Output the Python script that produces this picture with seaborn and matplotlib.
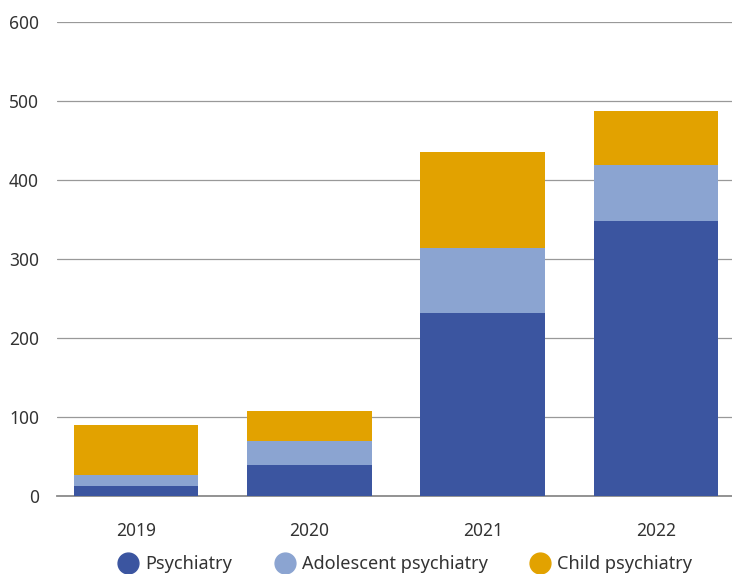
import matplotlib
matplotlib.use("Agg")
import matplotlib.pyplot as plt
from matplotlib.lines import Line2D
import seaborn as sns
import numpy as np
import pandas as pd

years = ["2019", "2020", "2021", "2022"]
psychiatry = [13, 39, 232, 348]
adolescent = [14, 31, 82, 71]
child = [63, 37, 121, 68]
series_names = ["Psychiatry", "Adolescent psychiatry", "Child psychiatry"]
colors = ["#3B55A0", "#8BA4D1", "#E2A200"]
y_ticks = [0, 100, 200, 300, 400, 500, 600]

sns.set_theme(style="white")
plt.rcParams["font.family"] = ["Noto Sans", "DejaVu Sans"]
text_color = "#333333"

df = pd.DataFrame({
    "year": years,
    "Psychiatry": psychiatry,
    "Adolescent psychiatry": adolescent,
    "Child psychiatry": child,
})
# cumulative tops for stacking
df["top_psy"] = df["Psychiatry"]
df["top_adol"] = df["top_psy"] + df["Adolescent psychiatry"]
df["top_child"] = df["top_adol"] + df["Child psychiatry"]

fig = plt.figure(figsize=(7.32, 5.74), dpi=100)
ax = fig.add_axes([57 / 732, 1 - 496 / 574, 675 / 732, 474 / 574])

for col, c in zip(["top_child", "top_adol", "top_psy"], colors[::-1]):
    sns.barplot(data=df, x="year", y=col, order=years, color=c,
                width=0.72, saturation=1, ax=ax, zorder=3, linewidth=0)

ax.set_xlim(-0.456, 3.438)
ax.set_ylim(0, 600)
ax.set_yticks(y_ticks)
ax.set_yticklabels([str(t) for t in y_ticks])
ax.set_xlabel("")
ax.set_ylabel("")
for s in ["top", "right", "left"]:
    ax.spines[s].set_visible(False)
ax.spines["bottom"].set_color("#8a8a8a")
ax.spines["bottom"].set_linewidth(1.3)
ax.yaxis.grid(True, color="#999999", linewidth=0.9)
ax.set_axisbelow(True)
ax.tick_params(axis="both", length=0, labelsize=12.5, labelcolor=text_color)
ax.tick_params(axis="y", pad=13)
ax.tick_params(axis="x", pad=19)

handles = [Line2D([0], [0], marker="o", linestyle="", markersize=15,
                  markerfacecolor=c, markeredgecolor=c) for c in colors]
fig.legend(handles, series_names, loc="center", ncol=3,
           bbox_to_anchor=(405 / 732, 1 - 564 / 574), frameon=False,
           fontsize=13, labelcolor=text_color, handletextpad=0.35,
           columnspacing=2.3, handlelength=1.2)

fig.savefig("out.png", dpi=100)
